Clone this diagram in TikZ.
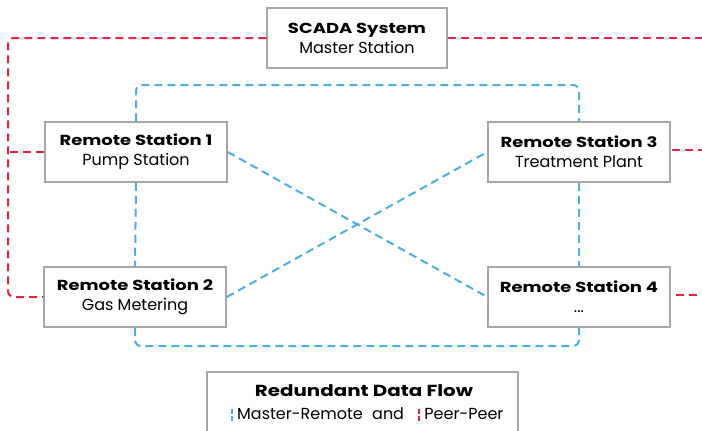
\documentclass[tikz,border=0pt]{standalone}
\usepackage{fontspec}
\setmainfont{Poppins}[BoldFeatures={FakeStretch=1.24}]
\newcommand{\headfont}{\bfseries\fontsize{14.5}{20}\selectfont}
\newcommand{\subfont}{\fontsize{16}{20}\selectfont}
\begin{document}
\begin{tikzpicture}[x=1pt,y=-1pt,
  station/.style={draw=boxgray, line width=1.5pt, fill=white, minimum width=182pt,
    minimum height=60pt, align=center, inner sep=0pt, font=\fontsize{16}{20}\selectfont},
  masterlink/.style={draw=linkblue, line width=2pt, dash pattern=on 8pt off 5pt, rounded corners=6pt},
  peerlink/.style={draw=linkred, line width=2pt, dash pattern=on 8pt off 5pt, rounded corners=6pt}]
\definecolor{boxgray}{HTML}{A6A6A6}
\definecolor{linkblue}{HTML}{4BAEE6}
\definecolor{linkred}{HTML}{E8233F}
\useasboundingbox (0,0) rectangle (702,431);
\clip (0,0) rectangle (702,431);

% guide coordinates for the outer runs of the links
\coordinate (redleft) at (8,0);
\coordinate (redright) at (704,0);
\coordinate (bluetop) at (0,85);
\coordinate (bluebottom) at (0,346);

% stations
\node[station, minimum width=180pt] (scada) at (357,38) {{\headfont SCADA System}\\{\subfont Master Station}};
\node[station] (rs1) at (136,152) {{\headfont Remote Station 1}\\{\subfont Pump Station}};
\node[station] (rs2) at (135,297) {{\headfont Remote Station 2}\\{\subfont Gas Metering}};
\node[station] (rs3) at (579,152) {{\headfont Remote Station 3}\\{\subfont Treatment Plant}};
\node[station] (rs4) at (579,297) {{\headfont Remote Station 4}\\{\subfont ...}};

% master-remote links (blue)
\draw[masterlink] (rs1.north) |- (bluetop -| rs3.north) -- (rs3.north);
\draw[masterlink] (rs2.south) |- (bluebottom -| rs4.south) -- (rs4.south);
\draw[masterlink] (rs1.south) -- (rs2.north);
\draw[masterlink] (rs3.south) -- (rs4.north);
\draw[masterlink] (rs1.east) -- (rs4.west);
\draw[masterlink] (rs2.east) -- (rs3.west);

% peer-peer links (red)
\draw[peerlink] (scada.west) -- (scada.west -| redleft) |- (rs2.west);
\draw[peerlink] (rs1.west) -- (rs1.west -| redleft);
\draw[peerlink] (scada.east) -- (scada.east -| redright);
\draw[peerlink] (rs3.east) ++(1pt,2pt) -- ++(34pt,0);
\draw[peerlink] (rs4.east) ++(5pt,2pt) -- ++(30pt,0);

% legend
\node[draw=boxgray, line width=1.5pt, fill=white, minimum width=311pt, minimum height=72pt,
  inner sep=0pt] (legend) at (362.5,408) {};
\node[font=\bfseries\fontsize{16}{20}\selectfont, inner sep=0pt] (legtitle) at (364,391) {Redundant Data Flow};
\node[font=\subfont, anchor=west, inner sep=0pt] (legmaster) at (237,414) {Master-Remote};
\node[font=\subfont, anchor=west, inner sep=0pt] (legand) at ([xshift=9pt]legmaster.east) {and};
\node[font=\subfont, anchor=west, inner sep=0pt] (legpeer) at ([xshift=20pt]legand.east) {Peer-Peer};
\draw[linkblue, line width=2pt, dash pattern=on 5pt off 2pt] ([xshift=-5pt,yshift=-7pt]legmaster.west) -- ++(0,14pt);
\draw[linkred, line width=2pt, dash pattern=on 5pt off 2pt] ([xshift=-5pt,yshift=-7pt]legpeer.west) -- ++(0,14pt);
\end{tikzpicture}
\end{document}
